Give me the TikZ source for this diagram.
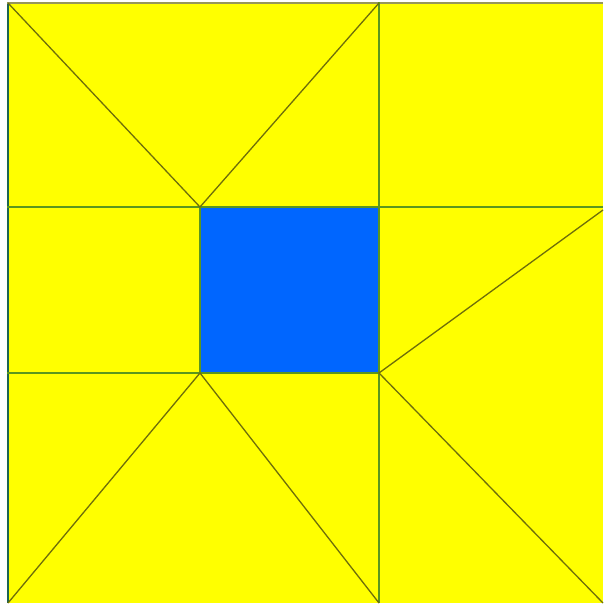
\documentclass[tikz,border=0pt]{standalone}
\usepackage{xcolor}
\usepackage{tikz}

\definecolor{tileyellow}{RGB}{255,255,0}
\definecolor{tileblue}{RGB}{0,102,255}
\definecolor{seamgreen}{RGB}{90,150,30}
\definecolor{diagolive}{RGB}{110,110,10}
\definecolor{edgeteal}{RGB}{30,100,80}
\definecolor{edgegray}{RGB}{150,150,90}

\begin{document}
\begin{tikzpicture}[
    x=1pt, y=-1pt,
    seam_line/.style={draw=seamgreen, line width=1.4pt},
    diag_line/.style={draw=diagolive, line width=1.3pt},
    % Tiles
    yellow_tile/.style={fill=tileyellow},
    blue_tile/.style={fill=tileblue}
]
    \useasboundingbox (0,0) rectangle (603,605);

    % =========================================================================
    % BACKGROUND AND CENTRE SQUARE
    % =========================================================================
    \fill [yellow_tile] (7,2) rectangle (603,603);
    \fill [blue_tile] (200,207) rectangle (379,373);

    % outer edges
    \draw [edgeteal, line width=2pt] (7.5,2) -- (7.5,603);
    \draw [edgegray, line width=2pt] (7,2.5) -- (603,2.5);

    % =========================================================================
    % SEAMS
    % =========================================================================
    \draw [seam_line] (7,207) -- (603,207);
    \draw [seam_line] (379,2) -- (379,603);
    \draw [seam_line] (7,373) -- (379,373);
    \draw [seam_line] (200,207) -- (200,373);

    % =========================================================================
    % DIAGONALS
    % =========================================================================
    \draw [diag_line] (8,3) -- (200,207) -- (379,3);
    \draw [diag_line] (8,603) -- (200,373) -- (379,603);
    \draw [diag_line] (603,210) -- (379,373) -- (603,603);
\end{tikzpicture}
\end{document}
